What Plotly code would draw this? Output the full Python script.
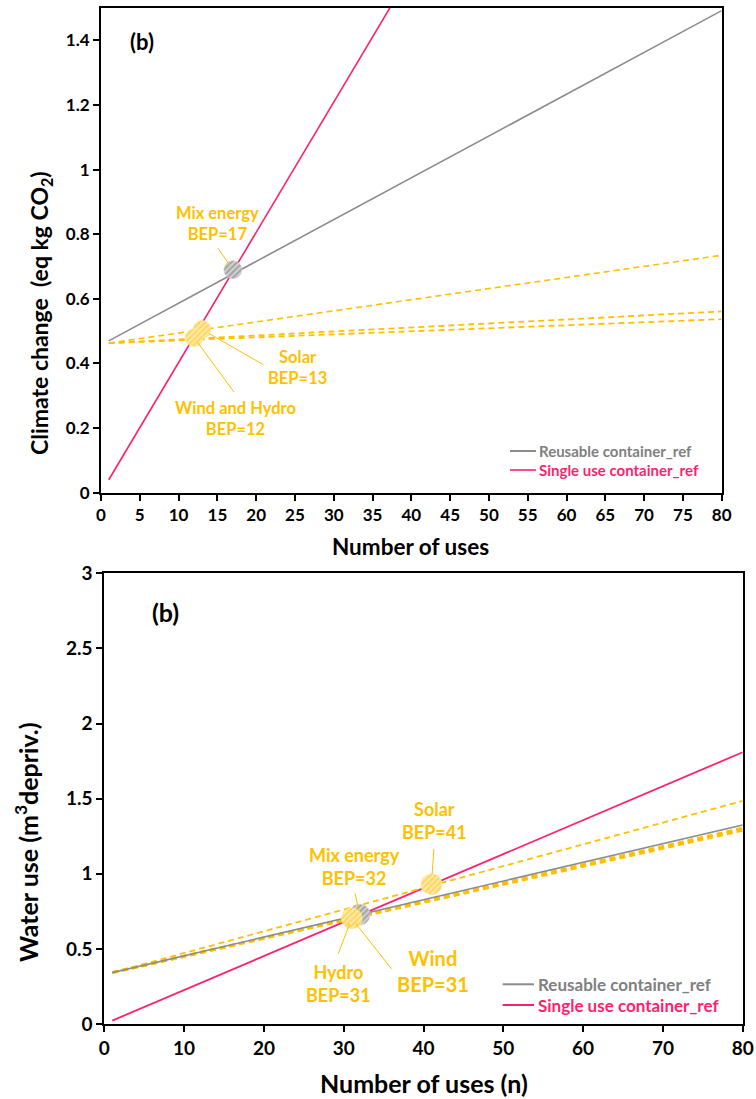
import numpy as np
import plotly.graph_objects as go

W, H = 756, 1099

# ---------------- data: climate change (top panel) ----------------
uses_span = [1, 80]
cc_reusable = [0.47, 1.492]
cc_single = [0.040, 3.224]
cc_solar = [0.463, 0.735]
cc_wind = [0.463, 0.561]
cc_hydro = [0.463, 0.537]

cc_bep_labels = ["Mix energy", "Solar", "Wind and Hydro"]
cc_bep_n = [17, 13, 12]
cc_bep_val = [0.69, 0.505, 0.48]

# ---------------- data: water use (bottom panel) ----------------
wu_reusable = [0.342, 1.325]
wu_single = [0.0227, 1.809]
wu_solar = [0.342, 1.485]
wu_wind = [0.342, 1.303]
wu_hydro = [0.342, 1.290]

wu_bep_labels = ["Mix energy", "Solar", "Hydro", "Wind"]
wu_bep_n = [32, 41, 31, 31]
wu_bep_val = [0.728, 0.93, 0.703, 0.703]

cc_xticks = list(range(0, 81, 5))
cc_yticks = [0, 0.2, 0.4, 0.6, 0.8, 1, 1.2, 1.4]
cc_yticktext = ["0", "0.2", "0.4", "0.6", "0.8", "1", "1.2", "1.4"]
wu_xticks = list(range(0, 81, 10))
wu_yticks = [0, 0.5, 1, 1.5, 2, 2.5, 3]
wu_yticktext = ["0", "0.5", "1", "1.5", "2", "2.5", "3"]

GRAY = "#8C8C8C"
PINK = "#FF1F6E"
YELLOW = "#FFC000"
FONT = "Lato"

# plot-area boxes in pixels (left, right, top, bottom)
top_box = (101, 721.7, 8, 492.7)
bot_box = (104.3, 742.7, 573.3, 1024)
top_xr, top_yr = (0, 80), (0, 1.5)
bot_xr, bot_yr = (0, 80), (0, 3)


def px(x):
    return x / W


def py(y):
    return 1 - y / H


fig = go.Figure()


def line(xa, ya, x, y, color, width, dash=None):
    fig.add_trace(go.Scatter(
        x=x, y=y, mode="lines", xaxis=xa, yaxis=ya, showlegend=False,
        hoverinfo="skip",
        line=dict(color=color, width=width, dash=dash)))


def bep_circle(xa, ya, cx, cy, r_px, box, xr, yr, fg, bg):
    # hatched disc of r_px pixels around a break-even point
    sx = (box[1] - box[0]) / (xr[1] - xr[0])
    sy = (box[3] - box[2]) / (yr[1] - yr[0])
    t = np.linspace(0, 2 * np.pi, 48)
    fig.add_trace(go.Scatter(
        x=cx + r_px * np.cos(t) / sx, y=cy + r_px * np.sin(t) / sy,
        mode="lines", fill="toself", xaxis=xa, yaxis=ya, showlegend=False,
        hoverinfo="skip", line=dict(width=0.6, color=bg),
        fillcolor=bg,
        fillpattern=dict(shape="/", fgcolor=fg, bgcolor=bg, size=4,
                         solidity=0.45)))


DASH = "6px,4px"

# top panel lines
line("x", "y", uses_span, cc_reusable, GRAY, 1.6)
line("x", "y", uses_span, cc_single, PINK, 1.6)
line("x", "y", uses_span, cc_solar, YELLOW, 1.6, DASH)
line("x", "y", uses_span, cc_wind, YELLOW, 1.8, DASH)
line("x", "y", uses_span, cc_hydro, YELLOW, 1.8, DASH)

# bottom panel lines
line("x2", "y2", uses_span, wu_single, PINK, 1.8)
line("x2", "y2", uses_span, wu_solar, YELLOW, 1.8, DASH)
line("x2", "y2", uses_span, wu_hydro, YELLOW, 3, DASH)
line("x2", "y2", uses_span, wu_wind, YELLOW, 3, DASH)
line("x2", "y2", uses_span, wu_reusable, GRAY, 1.6)

# break-even markers
bep_circle("x", "y", cc_bep_n[0], cc_bep_val[0], 9, top_box, top_xr, top_yr, "#6E6E6E", "#D0D0D0")
bep_circle("x", "y", cc_bep_n[1], cc_bep_val[1], 9, top_box, top_xr, top_yr, YELLOW, "#FFE9A8")
bep_circle("x", "y", cc_bep_n[2], cc_bep_val[2], 9, top_box, top_xr, top_yr, YELLOW, "#FFE9A8")
bep_circle("x2", "y2", wu_bep_n[0], wu_bep_val[0], 10.5, bot_box, bot_xr, bot_yr, "#6E6E6E", "#D0D0D0")
bep_circle("x2", "y2", wu_bep_n[1], wu_bep_val[1], 10.5, bot_box, bot_xr, bot_yr, YELLOW, "#FFE9A8")
bep_circle("x2", "y2", wu_bep_n[2], wu_bep_val[2], 10.5, bot_box, bot_xr, bot_yr, YELLOW, "#FFE9A8")

annotations = []


def text(x, y, s, size, color="black", anchor="center", angle=0):
    annotations.append(dict(
        x=px(x), y=py(y), xref="paper", yref="paper", text=s, showarrow=False,
        xanchor=anchor, yanchor="middle", textangle=angle, align="center",
        font=dict(family=FONT, size=size, color=color, weight="bold")))


def leader(xa, ya, x, y, ax, ay, standoff):
    annotations.append(dict(
        x=x, y=y, xref=xa, yref=ya, text="", showarrow=True, arrowhead=0,
        arrowwidth=1, arrowcolor=YELLOW, ax=ax, ay=ay, standoff=standoff))


# top panel labels
text(142, 41, "(b)", 22)
text(217, 223, f"{cc_bep_labels[0]}<br>BEP={cc_bep_n[0]}", 16.5, YELLOW)
text(297, 367, f"{cc_bep_labels[1]}<br>BEP={cc_bep_n[1]}", 16.5, YELLOW)
text(235, 418, f"{cc_bep_labels[2]}<br>BEP={cc_bep_n[2]}", 16.5, YELLOW)
leader("x", "y", cc_bep_n[0], cc_bep_val[0], -16, -23, 6)
leader("x", "y", cc_bep_n[1], cc_bep_val[1], 63, 36, 8)
leader("x", "y", cc_bep_n[2], cc_bep_val[2], 41, 56, 6)
text(411, 546, "Number of uses", 22.5)
text(40, 313, "Climate change  (eq kg CO<sub>2</sub>)", 23, angle=-90)
text(537, 451, "Reusable container_ref", 15, "#808080", "left")
text(537, 470, "Single use container_ref", 15, PINK, "left")

# bottom panel labels
text(165, 612, "(b)", 25)
text(434, 820, f"{wu_bep_labels[1]}<br>BEP={wu_bep_n[1]}", 18, YELLOW)
text(354, 866, f"{wu_bep_labels[0]}<br>BEP={wu_bep_n[0]}", 18, YELLOW)
text(338, 983, f"{wu_bep_labels[2]}<br>BEP={wu_bep_n[2]}", 18, YELLOW)
text(433, 971, f"{wu_bep_labels[3]}<br>BEP={wu_bep_n[3]}", 20, YELLOW)
leader("x2", "y2", wu_bep_n[1], wu_bep_val[1], 2.5, -37, 10)
leader("x2", "y2", wu_bep_n[0], wu_bep_val[0], -5, -23, 4)
leader("x2", "y2", wu_bep_n[2], wu_bep_val[2], -14, 37, 6)
leader("x2", "y2", wu_bep_n[3], wu_bep_val[3], 41, 52, 6)
text(423.5, 1083, "Number of uses (n)", 25)
text(26, 842, "Water use (m<sup>3</sup>depriv.)", 25, angle=-90)
text(536, 984.3, "Reusable container_ref", 17, "#808080", "left")
text(536, 1005, "Single use container_ref", 17, PINK, "left")

shapes = [
    dict(type="line", xref="paper", yref="paper", x0=px(510), x1=px(536),
         y0=py(451), y1=py(451), line=dict(color=GRAY, width=2)),
    dict(type="line", xref="paper", yref="paper", x0=px(510), x1=px(536),
         y0=py(470), y1=py(470), line=dict(color=PINK, width=1.6)),
    dict(type="line", xref="paper", yref="paper", x0=px(502.7), x1=px(534),
         y0=py(984.3), y1=py(984.3), line=dict(color=GRAY, width=2)),
    dict(type="line", xref="paper", yref="paper", x0=px(502.7), x1=px(534),
         y0=py(1005), y1=py(1005), line=dict(color=PINK, width=2)),
]

axis_common = dict(
    showline=True, linecolor="black", linewidth=2, mirror=True,
    ticks="outside", ticklen=6, tickwidth=1.5, tickcolor="black",
    showgrid=False, zeroline=False, fixedrange=True, automargin=False)

top_tick_font = dict(family=FONT, size=17, color="black", weight="bold")
bot_tick_font = dict(family=FONT, size=19, color="black", weight="bold")

fig.update_layout(
    width=W, height=H, margin=dict(l=0, r=0, t=0, b=0, pad=0),
    paper_bgcolor="white", plot_bgcolor="white", showlegend=False,
    xaxis=dict(domain=[px(top_box[0]), px(top_box[1])], range=list(top_xr),
               tickvals=cc_xticks, anchor="y", tickfont=top_tick_font,
               **axis_common),
    yaxis=dict(domain=[py(top_box[3]), py(top_box[2])], range=list(top_yr),
               tickvals=cc_yticks, ticktext=cc_yticktext, anchor="x",
               tickfont=top_tick_font, **axis_common),
    xaxis2=dict(domain=[px(bot_box[0]), px(bot_box[1])], range=list(bot_xr),
                tickvals=wu_xticks, anchor="y2", tickfont=bot_tick_font,
                **axis_common),
    yaxis2=dict(domain=[py(bot_box[3]), py(bot_box[2])], range=list(bot_yr),
                tickvals=wu_yticks, ticktext=wu_yticktext, anchor="x2",
                tickfont=bot_tick_font, **axis_common),
    annotations=annotations, shapes=shapes,
)

# page without body margin so the figure fills the window exactly
fig.write_html(
    "out.html",
    post_script="document.body.style.margin='0';"
                "document.body.style.overflow='hidden';")
